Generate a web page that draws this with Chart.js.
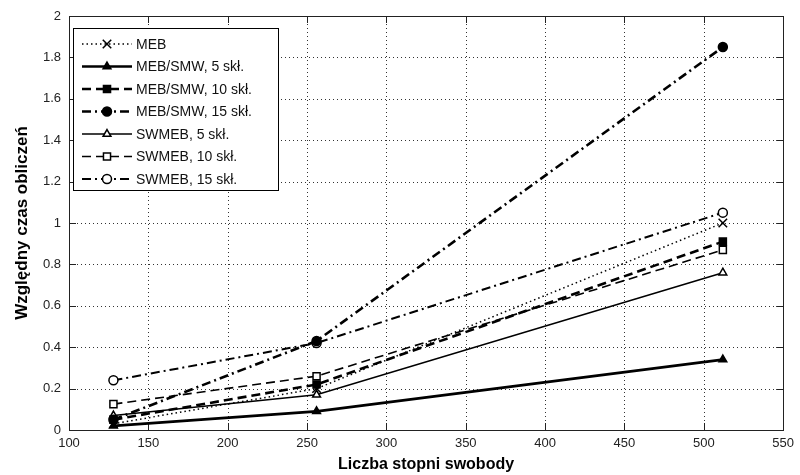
<!DOCTYPE html>
<html>
<head>
<meta charset="utf-8">
<script src="https://cdn.jsdelivr.net/npm/chart.js@4"></script>
<style>
  body { margin: 0; background: #fff; }
  #wrap { width: 800px; height: 475px; }
</style>
</head>
<body>
<div id="wrap"><canvas id="myChart" width="800" height="475"></canvas></div>
<script>
// dane
var dof = [128, 256, 512];
var meb = [0.03, 0.20, 1.00];
var mebSmw5 = [0.02, 0.09, 0.34];
var mebSmw10 = [0.05, 0.22, 0.91];
var mebSmw15 = [0.05, 0.43, 1.85];
var swmeb5 = [0.07, 0.17, 0.76];
var swmeb10 = [0.125, 0.26, 0.87];
var swmeb15 = [0.24, 0.42, 1.05];
var xTicks = [100, 150, 200, 250, 300, 350, 400, 450, 500, 550];
var yTicks = [0, 0.2, 0.4, 0.6, 0.8, 1, 1.2, 1.4, 1.6, 1.8, 2];

function pts(vals) {
    return vals.map(function (v, i) { return { x: dof[i], y: v }; });
}

var DASHDOT = [9, 4, 2, 4];
var series = [
    { label: 'MEB', data: meb, dash: [1.5, 3], width: 1.5, style: 'crossRot', fill: false },
    { label: 'MEB/SMW, 5 skł.', data: mebSmw5, dash: [], width: 2.6, style: 'triangle', fill: true },
    { label: 'MEB/SMW, 10 skł.', data: mebSmw10, dash: [9, 5], width: 2.6, style: 'rect', fill: true },
    { label: 'MEB/SMW, 15 skł.', data: mebSmw15, dash: DASHDOT, width: 2.6, style: 'circle', fill: true },
    { label: 'SWMEB, 5 skł.', data: swmeb5, dash: [], width: 1.6, style: 'triangle', fill: false },
    { label: 'SWMEB, 10 skł.', data: swmeb10, dash: [9, 5], width: 1.6, style: 'rect', fill: false },
    { label: 'SWMEB, 15 skł.', data: swmeb15, dash: DASHDOT, width: 2, style: 'circle', fill: false }
];

var datasets = series.map(function (s) {
    return {
        label: s.label,
        data: pts(s.data),
        borderColor: '#000',
        borderWidth: s.width,
        borderDash: s.dash,
        pointStyle: s.style,
        pointRadius: s.style === 'crossRot' ? 6 : (s.style === 'rect' ? 5 : 4.5),
        pointBorderWidth: 1.5,
        pointBorderColor: '#000',
        pointBackgroundColor: s.fill ? '#000' : '#fff',
        tension: 0
    };
});

var FONT = '"Liberation Sans", Arial, sans-serif';

// siatka, ramka i znaczniki jak w MATLAB
var matlabAxes = {
    id: 'matlabAxes',
    beforeDatasetsDraw: function (chart) {
        var c = chart.ctx, a = chart.chartArea;
        var xs = chart.scales.x, ys = chart.scales.y;
        c.save();
        c.strokeStyle = '#333';
        c.lineWidth = 1;
        c.setLineDash([1, 3]);
        xTicks.forEach(function (t) {
            var px = Math.round(xs.getPixelForValue(t)) + 0.5;
            if (t === xTicks[0] || t === xTicks[xTicks.length - 1]) return;
            c.beginPath(); c.moveTo(px, a.top); c.lineTo(px, a.bottom); c.stroke();
        });
        yTicks.forEach(function (t) {
            var py = Math.round(ys.getPixelForValue(t)) + 0.5;
            if (t === yTicks[0] || t === yTicks[yTicks.length - 1]) return;
            c.beginPath(); c.moveTo(a.left, py); c.lineTo(a.right, py); c.stroke();
        });
        c.setLineDash([]);
        c.strokeStyle = '#222';
        xTicks.forEach(function (t) {
            var px = Math.round(xs.getPixelForValue(t)) + 0.5;
            c.beginPath(); c.moveTo(px, a.bottom); c.lineTo(px, a.bottom - 7); c.stroke();
            c.beginPath(); c.moveTo(px, a.top); c.lineTo(px, a.top + 7); c.stroke();
        });
        yTicks.forEach(function (t) {
            var py = Math.round(ys.getPixelForValue(t)) + 0.5;
            c.beginPath(); c.moveTo(a.left, py); c.lineTo(a.left + 7, py); c.stroke();
            c.beginPath(); c.moveTo(a.right, py); c.lineTo(a.right - 7, py); c.stroke();
        });
        c.strokeRect(Math.round(a.left) + 0.5, Math.round(a.top) + 0.5,
            Math.round(a.right - a.left), Math.round(a.bottom - a.top));
        c.restore();
    },
    afterDraw: function (chart) {
        // legenda w lewym górnym rogu
        var c = chart.ctx;
        var bx = 73, by = 28, bw = 205, bh = 162;
        c.save();
        c.fillStyle = '#fff';
        c.fillRect(bx, by, bw, bh);
        c.strokeStyle = '#000';
        c.lineWidth = 1;
        c.strokeRect(bx + 0.5, by + 0.5, bw, bh);
        c.font = '14px ' + FONT;
        c.textBaseline = 'middle';
        chart.data.datasets.forEach(function (ds, i) {
            var y = by + 16 + i * 22.5;
            c.strokeStyle = '#000';
            c.lineWidth = ds.borderWidth;
            c.setLineDash(ds.borderDash);
            c.beginPath(); c.moveTo(82, y); c.lineTo(132, y); c.stroke();
            c.setLineDash([]);
            c.lineWidth = 1.5;
            c.fillStyle = ds.pointBackgroundColor;
            Chart.helpers.drawPoint(c, {
                pointStyle: ds.pointStyle, radius: ds.pointRadius, borderWidth: 1.5, rotation: 0
            }, 107, y);
            c.fillStyle = '#111';
            c.fillText(ds.label, 136, y + 1);
        });
        c.restore();
    }
};

var ctx = document.getElementById('myChart').getContext('2d');
var myChart = new Chart(ctx, {
    type: 'line',
    data: { datasets: datasets },
    options: {
        responsive: false,
        animation: false,
        layout: { padding: { left: 12, top: 16, right: 15, bottom: 0 } },
        plugins: { legend: { display: false }, tooltip: { enabled: false } },
        scales: {
            x: {
                type: 'linear',
                min: 100, max: 550,
                afterFit: function (s) { s.height = 45; },
                afterBuildTicks: function (s) { s.ticks = xTicks.map(function (v) { return { value: v }; }); },
                grid: { display: false, drawTicks: false },
                border: { display: false },
                ticks: {
                    color: '#222', padding: 6,
                    font: { family: FONT, size: 13 },
                    maxRotation: 0
                },
                title: {
                    display: true, text: 'Liczba stopni swobody', color: '#000',
                    font: { family: FONT, size: 16, weight: 'bold' },
                    padding: { top: 0, bottom: 1 }
                }
            },
            y: {
                min: 0, max: 2,
                afterFit: function (s) { s.width = 57; },
                afterBuildTicks: function (s) { s.ticks = yTicks.map(function (v) { return { value: v }; }); },
                grid: { display: false, drawTicks: false },
                border: { display: false },
                ticks: {
                    color: '#222', padding: 8,
                    font: { family: FONT, size: 13 },
                    callback: function (v) { return String(Math.round(v * 10) / 10); }
                },
                title: {
                    display: true, text: 'Względny czas obliczeń', color: '#000',
                    font: { family: FONT, size: 17, weight: 'bold' },
                    padding: { top: 0, bottom: 0 }
                }
            }
        }
    },
    plugins: [matlabAxes]
});
</script>
</body>
</html>
